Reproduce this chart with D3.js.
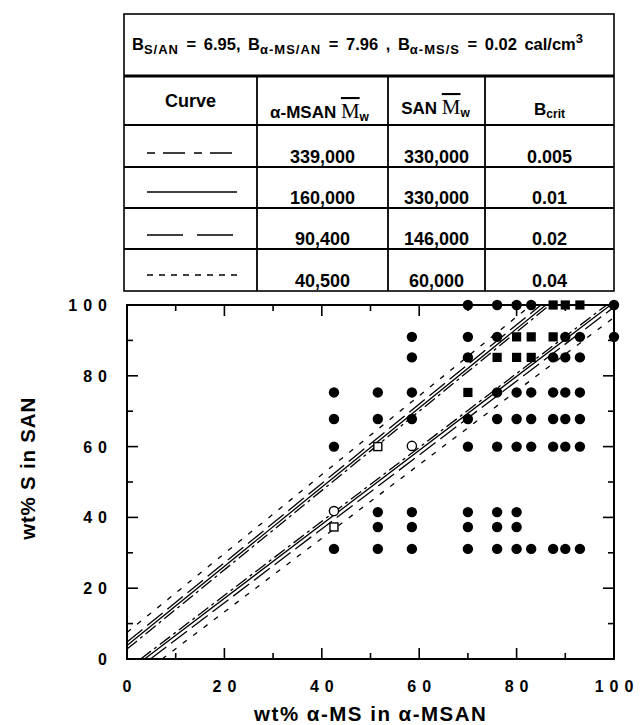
<!DOCTYPE html>
<html>
<head>
<meta charset="utf-8">
<script src="https://cdn.jsdelivr.net/npm/d3@7"></script>
<style>
  body { margin: 0; background: #fff; }
  svg text { font-family: "Liberation Sans", Arial, sans-serif; font-weight: bold; fill: #000; }
</style>
</head>
<body>
<div id="chart"></div>
<script>
// table rows, one per curve
const curveMsanMw = ["339,000", "160,000", "90,400", "40,500"];
const curveSanMw = ["330,000", "330,000", "146,000", "60,000"];
const curveBcrit = ["0.005", "0.01", "0.02", "0.04"];

// miscibility window boundaries: [[x0, y0], [x1, y1]]
const upperLine = [
  [[0, 2.8], [86.8, 100]],
  [[0, 3.8], [86.0, 100]],
  [[0, 4.8], [85.0, 100]],
  [[0, 7.5], [83.0, 100]],
];
const lowerLine = [
  [[2.8, 0], [98.5, 100]],
  [[3.6, 0], [99.3, 100]],
  [[4.8, 0], [100, 99.4]],
  [[7.2, 0], [100, 96.5]],
];

const xTicks = [0, 20, 40, 60, 80, 100];
const yTicks = [0, 20, 40, 60, 80, 100];

// blend observations: wt% a-MS in a-MSAN, wt% S in SAN
const filledCircles = [
  [70, 100], [76, 100], [80, 100], [83, 100], [100, 100],
  [58.5, 91], [70, 91], [76, 91], [90, 91], [93, 91], [100, 91],
  [58.5, 85.2], [70, 85.2], [87.5, 85.2], [90, 85.2], [93, 85.2],
  [42.5, 75.3], [51.5, 75.3], [58.5, 75.3], [76, 75.3], [80, 75.3], [83, 75.3], [87.5, 75.3], [90, 75.3], [93, 75.3],
  [42.5, 67.8], [51.5, 67.8], [58.5, 67.8], [70, 67.8], [76, 67.8], [80, 67.8], [83, 67.8], [87.5, 67.8], [90, 67.8], [93, 67.8],
  [42.5, 60], [70, 60], [76, 60], [80, 60], [83, 60], [87.5, 60], [90, 60], [93, 60],
  [51.5, 41.5], [58.5, 41.5], [70, 41.5], [76, 41.5], [80, 41.5],
  [51.5, 37.3], [58.5, 37.3], [70, 37.3], [76, 37.3], [80, 37.3],
  [42.5, 31.1], [51.5, 31.1], [58.5, 31.1], [70, 31.1], [76, 31.1], [80, 31.1], [83, 31.1], [87.5, 31.1], [90, 31.1], [93, 31.1],
];
const filledSquares = [
  [87.5, 100], [90, 100], [93, 100],
  [80, 91], [83, 91], [87.5, 91],
  [76, 85.2], [80, 85.2], [83, 85.2],
  [70, 75.3],
];
const openCircles = [[58.5, 60.2], [42.5, 41.8]];
const openSquares = [[51.5, 60], [42.5, 37.3]];

// line styles per curve (plot and legend sample)
const plotDash = ["13,4,3,4", null, "20,6", "5,8"];
const legendDash = ["8,8,22,9", null, "36,14", "6,6"];

const width = 641;
const height = 725;

const svg = d3.select("#chart").append("svg")
  .attr("width", width)
  .attr("height", height);

// ---------- table ----------
const tbl = { left: 124, right: 614, top: 14, titleBottom: 76 };
const colEdges = [124, 257, 388, 485, 614];
const rowEdges = [125, 167, 208, 249, 291];
const colMid = d3.pairs(colEdges).map(([a, b]) => (a + b) / 2);

const t = svg.append("g").attr("stroke", "#000").attr("fill", "none");
t.append("rect")
  .attr("x", tbl.left).attr("y", tbl.top)
  .attr("width", tbl.right - tbl.left).attr("height", rowEdges[4] - tbl.top)
  .attr("stroke-width", 1.6);
t.append("line")
  .attr("x1", tbl.left).attr("x2", tbl.right)
  .attr("y1", tbl.titleBottom).attr("y2", tbl.titleBottom)
  .attr("stroke-width", 2.8);
t.selectAll("line.h").data(rowEdges.slice(0, 4)).join("line")
  .attr("class", "h")
  .attr("x1", tbl.left).attr("x2", tbl.right)
  .attr("y1", (d) => d).attr("y2", (d) => d)
  .attr("stroke-width", (d, i) => (i === 0 ? 2.2 : 1.8));
t.selectAll("line.v").data(colEdges.slice(1, 4)).join("line")
  .attr("class", "v")
  .attr("x1", (d) => d).attr("x2", (d) => d)
  .attr("y1", tbl.titleBottom).attr("y2", rowEdges[4])
  .attr("stroke-width", 1.8);

// title row with subscripts
const title = svg.append("text").attr("x", 132).attr("y", 50)
  .style("font-size", "16.5px").style("word-spacing", "3px");
const titleParts = [
  ["B", 0], ["S/AN", 1], [" = 6.95, B", 0], ["\u03b1-MS/AN", 1],
  [" = 7.96 , B", 0], ["\u03b1-MS/S", 1], [" = 0.02 cal/cm", 0], ["3", 2],
];
let shift = 0;
titleParts.forEach(([s, k]) => {
  const target = k === 1 ? 4 : k === 2 ? -7 : 0;
  title.append("tspan")
    .attr("dy", target - shift)
    .style("font-size", k ? "13px" : "16.5px")
    .style("letter-spacing", k === 1 ? "1px" : "0px")
    .text(s);
  shift = target;
});

// header row
svg.append("text").attr("x", colMid[0]).attr("y", 107)
  .attr("text-anchor", "middle").style("font-size", "18px").text("Curve");

function mwHeader(x, yb, prefix) {
  const txt = svg.append("text").attr("x", x).attr("y", yb)
    .attr("text-anchor", "middle").style("font-size", "17px");
  txt.append("tspan").text(prefix);
  txt.append("tspan")
    .style("font-family", "'Liberation Serif', 'Times New Roman', serif")
    .style("font-weight", "normal")
    .style("font-size", "21px")
    .style("text-decoration", "overline")
    .text("M");
  txt.append("tspan").attr("dy", 3).style("font-size", "12px").text("w");
}
mwHeader(colMid[1] - 3, 118, "\u03b1-MSAN ");
mwHeader(colMid[2] - 1, 114, "SAN ");

const bh = svg.append("text").attr("x", colMid[3]).attr("y", 115)
  .attr("text-anchor", "middle").style("font-size", "17px");
bh.append("tspan").text("B");
bh.append("tspan").attr("dy", 3).style("font-size", "12px").text("crit");

// body rows
const rowMid = d3.pairs(rowEdges);
const legendY = [153, 192, 235, 275];
svg.append("g").selectAll("line").data(legendDash).join("line")
  .attr("x1", 147).attr("x2", 237)
  .attr("y1", (d, i) => legendY[i]).attr("y2", (d, i) => legendY[i])
  .attr("stroke", "#000").attr("stroke-width", 1.6)
  .attr("stroke-dasharray", (d) => d);

[curveMsanMw, curveSanMw, curveBcrit].forEach((col, c) => {
  svg.append("g").selectAll("text").data(col).join("text")
    .attr("x", colMid[c + 1])
    .attr("y", (d, i) => rowMid[i][1] - 4)
    .attr("text-anchor", "middle")
    .style("font-size", "18px")
    .text((d) => d);
});

// ---------- plot ----------
const x = d3.scaleLinear().domain([0, 100]).range([127, 614]);
const y = d3.scaleLinear().domain([0, 100]).range([659, 305]);

const plot = svg.append("g");
plot.append("rect")
  .attr("x", x(0)).attr("y", y(100))
  .attr("width", x(100) - x(0)).attr("height", y(0) - y(100))
  .attr("fill", "none").attr("stroke", "#000").attr("stroke-width", 2);

// inward ticks on all four sides, every 10, longer at 20s
const tickVals = d3.range(10, 100, 10);
const tlen = (v) => (v % 20 === 0 ? 11 : 6);
const tk = plot.append("g").attr("stroke", "#000").attr("stroke-width", 1.6);
tk.selectAll("line.b").data(tickVals).join("line").attr("class", "b")
  .attr("x1", (d) => x(d)).attr("x2", (d) => x(d))
  .attr("y1", y(0)).attr("y2", (d) => y(0) - tlen(d));
tk.selectAll("line.t").data(tickVals).join("line").attr("class", "t")
  .attr("x1", (d) => x(d)).attr("x2", (d) => x(d))
  .attr("y1", y(100)).attr("y2", (d) => y(100) + tlen(d));
tk.selectAll("line.l").data(tickVals).join("line").attr("class", "l")
  .attr("y1", (d) => y(d)).attr("y2", (d) => y(d))
  .attr("x1", x(0)).attr("x2", (d) => x(0) + tlen(d));
tk.selectAll("line.r").data(tickVals).join("line").attr("class", "r")
  .attr("y1", (d) => y(d)).attr("y2", (d) => y(d))
  .attr("x1", x(100)).attr("x2", (d) => x(100) - tlen(d));

// tick labels (spaced digits as in the print)
const ls = 6;
plot.append("g").selectAll("text").data(xTicks).join("text")
  .attr("x", (d) => x(d) + ls / 2)
  .attr("y", 692)
  .attr("text-anchor", "middle")
  .style("font-size", "16px")
  .style("letter-spacing", ls + "px")
  .text((d) => d);
plot.append("g").selectAll("text").data(yTicks).join("text")
  .attr("x", 107 + ls)
  .attr("y", (d) => y(d) + 6)
  .attr("text-anchor", "end")
  .style("font-size", "16px")
  .style("letter-spacing", ls + "px")
  .text((d) => d);

// axis titles
plot.append("text")
  .attr("x", 370 + 0.75).attr("y", 721)
  .attr("text-anchor", "middle").style("font-size", "20.5px")
  .style("letter-spacing", "1.5px")
  .text("wt% \u03b1-MS in \u03b1-MSAN");
plot.append("text")
  .attr("transform", `translate(35,468.4) rotate(-90)`)
  .attr("text-anchor", "middle").style("font-size", "20.5px")
  .style("letter-spacing", "0.8px")
  .text("wt% S in SAN");

// boundary lines
const line = d3.line().x((d) => x(d[0])).y((d) => y(d[1]));
const bounds = plot.append("g").attr("fill", "none").attr("stroke", "#000").attr("stroke-width", 1.3);
[upperLine, lowerLine].forEach((set) => {
  bounds.append("g").selectAll("path").data(set).join("path")
    .attr("d", (d) => line(d))
    .attr("stroke-dasharray", (d, i) => plotDash[i]);
});

// markers
const r = 5.2;
plot.append("g").selectAll("circle").data(filledCircles).join("circle")
  .attr("cx", (d) => x(d[0])).attr("cy", (d) => y(d[1])).attr("r", r)
  .attr("fill", "#000");
plot.append("g").selectAll("rect").data(filledSquares).join("rect")
  .attr("x", (d) => x(d[0]) - 4.6).attr("y", (d) => y(d[1]) - 4.6)
  .attr("width", 9.2).attr("height", 9.2).attr("fill", "#000");
plot.append("g").selectAll("circle").data(openCircles).join("circle")
  .attr("cx", (d) => x(d[0])).attr("cy", (d) => y(d[1])).attr("r", r - 0.6)
  .attr("fill", "#fff").attr("stroke", "#000").attr("stroke-width", 1.4);
plot.append("g").selectAll("rect").data(openSquares).join("rect")
  .attr("x", (d) => x(d[0]) - 4).attr("y", (d) => y(d[1]) - 4)
  .attr("width", 8).attr("height", 8)
  .attr("fill", "#fff").attr("stroke", "#000").attr("stroke-width", 1.4);
</script>
</body>
</html>
